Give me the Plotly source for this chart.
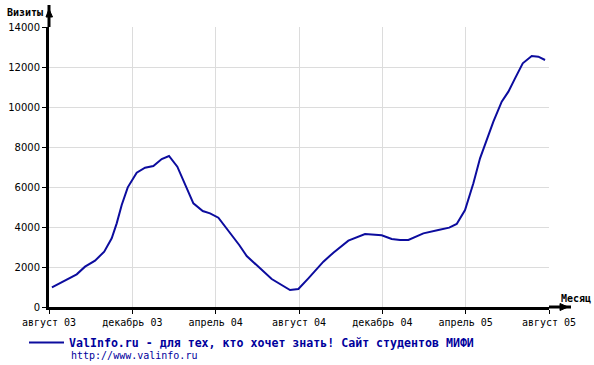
import plotly.graph_objects as go

# ---- data (months since August 2003, visits) ----
months = [0.14, 0.77, 1.33, 1.73, 2.21, 2.65, 3.01, 3.25, 3.49, 3.78, 4.21, 4.61,
          5.01, 5.41, 5.76, 6.16, 6.53, 6.93, 7.38, 7.73, 8.13, 8.50, 8.77, 9.13,
          9.49, 9.90, 10.69, 11.57, 11.97, 12.45, 13.17, 13.65, 14.37, 15.17, 15.97,
          16.45, 16.85, 17.25, 17.97, 18.69, 19.21, 19.57, 19.97, 20.21, 20.37,
          20.69, 21.01, 21.33, 21.73, 22.05, 22.37, 22.74, 23.17, 23.49, 23.81]
visits = [985, 1350, 1633, 2017, 2317, 2767, 3433, 4183, 5100, 5983, 6717, 6967,
          7050, 7400, 7550, 7017, 6100, 5183, 4800, 4683, 4467, 3983, 3600, 3100,
          2550, 2150, 1400, 850, 900, 1433, 2267, 2717, 3317, 3650, 3590,
          3400, 3350, 3350, 3683, 3850, 3967, 4150, 4850, 5650, 6183,
          7433, 8350, 9267, 10267, 10767, 11433, 12183, 12550, 12517, 12350]

tick_vals = [0, 4, 8, 12, 16, 20, 24]
tick_text = ["август 03", "декабрь 03", "апрель 04", "август 04",
             "декабрь 04", "апрель 05", "август 05"]
y_ticks = [0, 2000, 4000, 6000, 8000, 10000, 12000, 14000]
y_tick_text = [str(v) for v in y_ticks]

series_name = "ValInfo.ru - для тех, кто хочет знать! Сайт студентов МИФИ"
url_text = "http://www.valinfo.ru"

# ---- layout geometry ----
W, H = 594, 365
ML, MR, MT, MB = 49, 45, 27, 58
PW, PH = W - ML - MR, H - MT - MB

def px(x):
    return (x - ML) / PW

def py(y):
    return (H - MB - y) / PH

BLUE = "#0c0c9e"
TXT_BLUE = "#00009c"

fig = go.Figure()
fig.add_trace(go.Scatter(
    x=months, y=visits, mode="lines", name=series_name,
    line=dict(color=BLUE, width=2),
))

shapes = [
    # y-axis extension + arrow
    dict(type="line", xref="paper", yref="paper", x0=0, x1=0, y0=1, y1=py(5),
         line=dict(color="black", width=3)),
    dict(type="path", xref="paper", yref="paper",
         path=f"M {px(46)},{py(17)} L {px(52.5)},{py(17)} L {px(49)},{py(9)} Z",
         fillcolor="black", line=dict(color="black", width=1)),
    # x-axis extension + arrow
    dict(type="line", xref="paper", yref="paper", x0=1, x1=px(571), y0=0, y1=0,
         line=dict(color="black", width=3)),
    dict(type="path", xref="paper", yref="paper",
         path=f"M {px(560)},{py(303.5)} L {px(560)},{py(310.5)} L {px(568)},{py(307)} Z",
         fillcolor="black", line=dict(color="black", width=1)),
]

annotations = [
    dict(text="<b>Визиты</b>", xref="paper", yref="paper", x=px(5), y=py(13),
         xanchor="left", yanchor="middle", showarrow=False,
         font=dict(family="DejaVu Sans Mono", size=10, color="black")),
    dict(text="<b>Месяц</b>", xref="paper", yref="paper", x=px(559), y=py(298),
         xanchor="left", yanchor="middle", showarrow=False,
         font=dict(family="DejaVu Sans Mono", size=10, color="black")),
    dict(text=url_text, xref="paper", yref="paper", x=px(69), y=py(355),
         xanchor="left", yanchor="middle", showarrow=False,
         font=dict(family="DejaVu Sans Mono", size=10, color=TXT_BLUE)),
]

fig.update_layout(
    width=W, height=H,
    margin=dict(l=ML, r=MR, t=MT, b=MB, pad=0, autoexpand=False),
    paper_bgcolor="white", plot_bgcolor="white",
    showlegend=True,
    legend=dict(x=px(24), y=py(328), xanchor="left", yanchor="top",
                bgcolor="rgba(0,0,0,0)", itemwidth=35,
                font=dict(family="DejaVu Sans Mono", size=11.6, color=TXT_BLUE,
                          weight="bold")),
    shapes=shapes, annotations=annotations,
    xaxis=dict(range=[0, 24], tickvals=tick_vals, ticktext=tick_text,
               showgrid=True, gridcolor="#dcdcdc", gridwidth=1,
               showline=True, linecolor="black", linewidth=3,
               ticks="outside", ticklen=4, tickwidth=1, tickcolor="black",
               zeroline=False, automargin=False,
               tickfont=dict(family="DejaVu Sans Mono", size=10, color="black")),
    yaxis=dict(range=[0, 14000], tickvals=y_ticks, ticktext=y_tick_text,
               showgrid=True, gridcolor="#dcdcdc", gridwidth=1,
               showline=True, linecolor="black", linewidth=3,
               ticks="outside", ticklen=4, tickwidth=1, tickcolor="black",
               zeroline=False, automargin=False,
               tickfont=dict(family="DejaVu Sans", size=10, color="black")),
)

fig.write_html("out.html",
               config={"displayModeBar": False},
               post_script="document.body.style.margin='0';document.body.style.padding='0';")
